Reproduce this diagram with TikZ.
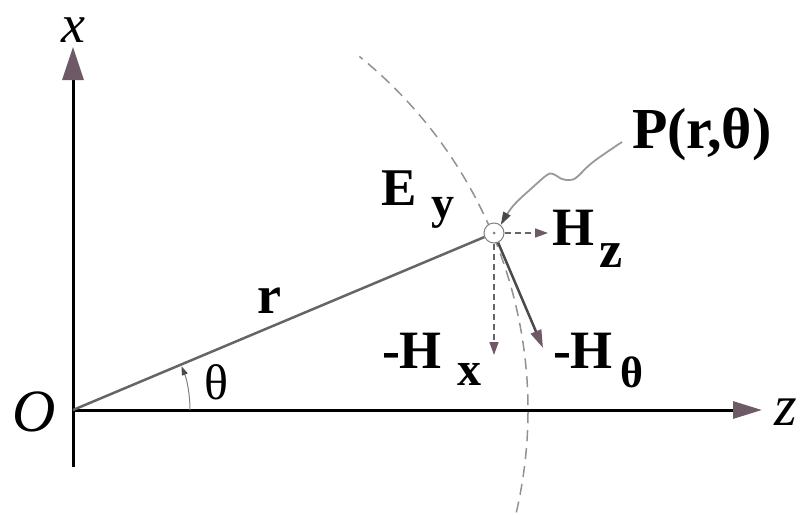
\documentclass[tikz,border=0pt]{standalone}
\usepackage{fontspec}
\setmainfont{Liberation Serif}
\usetikzlibrary{arrows.meta}
\definecolor{headc}{HTML}{6E5A66}
\definecolor{vecc}{HTML}{4A4A4A}
\definecolor{dashc}{HTML}{777777}
\newcommand\setfs[1]{\fontsize{#1}{#1}\selectfont}
\tikzset{
  axis/.style={line width=3pt, black},
  lbl/.style={inner sep=0pt, outer sep=0pt, anchor=base west, font=\bfseries\setfs{54}},
  sublbl/.style={inner sep=0pt, outer sep=0pt, anchor=base west, font=\bfseries\setfs{#1}},
  axlbl/.style={inner sep=0pt, outer sep=0pt, anchor=base, font=\itshape\setfs{58}},
  rline/.style={line width=2.5pt, color=vecc!85},
  arcd/.style={line width=1.5pt, color=dashc!80, dash pattern=on 11pt off 7pt},
  dvec/.style={line width=1.6pt, color=dashc!85!black, dash pattern=on 6pt off 4pt, -{Triangle[length=13pt,width=9pt,color=headc]}},
  svec/.style={line width=2.5pt, color=vecc, -{Triangle[length=18pt,width=11pt,color=headc]}},
  leader/.style={line width=1.8pt, color=gray!80, -{Triangle[length=13pt,width=8pt,color=vecc]}},
  angarc/.style={line width=1pt, color=gray, -{Triangle[length=9pt,width=6pt,color=vecc]}},
}
\begin{document}
\begin{tikzpicture}[x=1pt,y=-1pt]
\useasboundingbox (0,0) rectangle (800,514);
% axes
\coordinate (orig) at (73,410);
\coordinate (xbot) at (73,467);
\coordinate (xtip) at (73,47);
\coordinate (ztip) at (762,410);
\draw[axis, -{Triangle[length=33pt,width=21pt,color=headc]}] (xbot) -- (xtip);
\draw[axis, -{Triangle[length=29pt,width=17pt,color=headc]}] (orig) -- (ztip);
\node[axlbl, font=\itshape\setfs{54}] (xl) at (73,42) {x};
\node[axlbl] (zl) at (786,425) {z};
\node[axlbl, font=\itshape\setfs{60}] (ol) at (34,431) {O};
% dashed arc
\draw[arcd] (orig) ++(13:455) arc[start angle=13, end angle=-51, radius=455];
% point P
\node[circle, draw=gray, line width=1pt, minimum size=20pt, inner sep=0pt, fill=white] (P) at (494,233) {};
\fill[gray] (P.center) circle (1.5);
% r line
\draw[rline] (orig) -- (P);
% angle arc
\draw[angarc] (orig) ++(0:117) arc[start angle=0, end angle=-22, radius=117];
% vectors
\coordinate (hz) at (548,233);
\coordinate (hx) at (494,355);
\coordinate (ht) at (543,348);
\draw[dvec] (P.east) -- (hz);
\draw[dvec] (P.south) -- (hx);
\draw[svec] (P) -- (ht);
% leader
\coordinate (lead) at (622,142);
\draw[leader] plot[smooth, tension=0.6] coordinates {(lead) (593,162) (577,177) (570,180) (562,179) (553,174) (547,175) (533,187) (513,206) (P.50)};
% labels
\node[lbl, font=\bfseries\setfs{58}] (pl) at (632,148) {P(r,θ)};
\node[lbl, font=\bfseries\setfs{53}] (el) at (381,205) {E};
\node[sublbl=46] (eyl) at (431,218) {y};
\node[lbl] (rl) at (257,313) {r};
\node[inner sep=0pt, anchor=base west, font=\setfs{50}] (thl) at (204,399) {θ};
\node[lbl] (hzl) at (552,245) {H};
\node[sublbl=52] (hzs) at (599,267) {z};
\node[lbl] (hxl) at (382,368) {-H};
\node[sublbl=48] (hxs) at (457,385) {x};
\node[lbl] (htl) at (553,368) {-H};
\node[sublbl=44] (hts) at (620,387) {θ};
\end{tikzpicture}
\end{document}
